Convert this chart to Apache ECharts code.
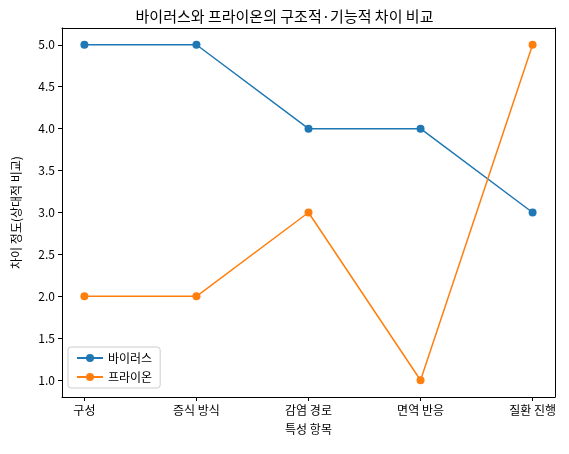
<!DOCTYPE html>
<html>
<head>
<meta charset="utf-8">
<script src="https://cdn.jsdelivr.net/npm/echarts@6/dist/echarts.min.js"></script>
<style>html,body{margin:0;padding:0;background:#fff}#chart{width:569px;height:454px}</style>
</head>
<body>
<div id="chart"></div>
<script>
const categories = ['구성', '증식 방식', '감염 경로', '면역 반응', '질환 진행'];
const virus = [5, 5, 4, 4, 3];
const prion = [2, 2, 3, 1, 5];
const yTicks = [1, 1.5, 2, 2.5, 3, 3.5, 4, 4.5, 5];

const font = '"Noto Sans CJK KR", "DejaVu Sans", sans-serif';
const chart = echarts.init(document.getElementById('chart'));
const line = { show: true, onZero: false, lineStyle: { color: '#000', width: 1 } };

chart.setOption({
    animation: false,
    textStyle: { fontFamily: font },
    title: {
        text: '바이러스와 프라이온의 구조적·기능적 차이 비교',
        left: 'center', top: 4,
        textStyle: { fontFamily: font, fontSize: 15, fontWeight: 'normal', color: '#000' }
    },
    legend: {
        orient: 'vertical', left: 68, top: 347,
        itemWidth: 26, itemHeight: 10, itemGap: 7,
        padding: [5, 8], borderColor: '#ccc', borderWidth: 1, borderRadius: 3,
        backgroundColor: 'rgba(255,255,255,0.8)',
        textStyle: { fontFamily: font, fontSize: 12, color: '#000' },
        data: ['바이러스', '프라이온']
    },
    grid: { left: 62, right: 14, top: 28, bottom: 57 },
    xAxis: [{
        type: 'value', min: -0.2, max: 4.2,
        name: '특성 항목', nameLocation: 'middle', nameGap: 26,
        nameTextStyle: { fontFamily: font, fontSize: 12, color: '#000' },
        axisLine: line, splitLine: { show: false },
        axisTick: { show: true, customValues: [0, 1, 2, 3, 4], length: 4, lineStyle: { color: '#000' } },
        axisLabel: { customValues: [0, 1, 2, 3, 4], formatter: v => categories[Math.round(v)],
            fontFamily: font, fontSize: 12, color: '#000', margin: 7 }
    }, {
        type: 'value', position: 'top', min: -0.2, max: 4.2,
        axisLine: line, axisTick: { show: false }, axisLabel: { show: false }, splitLine: { show: false }
    }],
    yAxis: [{
        type: 'value', min: 0.8, max: 5.2,
        name: '차이 정도(상대적 비교)', nameLocation: 'middle', nameGap: 40,
        nameTextStyle: { fontFamily: font, fontSize: 12, color: '#000' },
        axisLine: line, splitLine: { show: false },
        axisTick: { show: true, customValues: yTicks, length: 4, lineStyle: { color: '#000' } },
        axisLabel: { customValues: yTicks, formatter: v => v.toFixed(1),
            fontFamily: font, fontSize: 12, color: '#000', margin: 7 }
    }, {
        type: 'value', position: 'right', min: 0.8, max: 5.2,
        axisLine: line, axisTick: { show: false }, axisLabel: { show: false }, splitLine: { show: false }
    }],
    series: [
        { name: '바이러스', type: 'line', data: virus.map((v, i) => [i, v]),
          symbol: 'circle', symbolSize: 8, color: '#1f77b4', lineStyle: { width: 1.5 } },
        { name: '프라이온', type: 'line', data: prion.map((v, i) => [i, v]),
          symbol: 'circle', symbolSize: 8, color: '#ff7f0e', lineStyle: { width: 1.5 } }
    ]
});
</script>
</body>
</html>
